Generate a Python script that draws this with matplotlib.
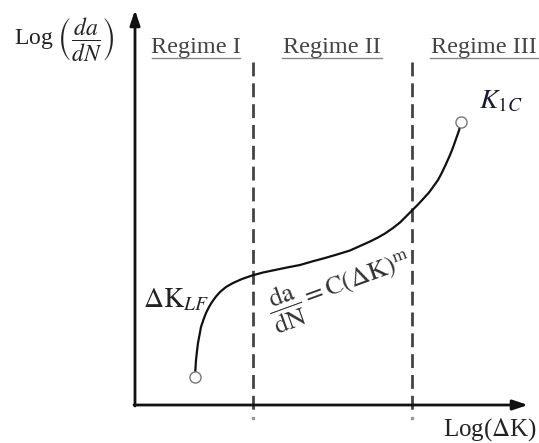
import matplotlib.pyplot as plt
import numpy as np

plt.rcParams['mathtext.fontset'] = 'stix'
plt.rcParams['font.family'] = ['Liberation Serif', 'DejaVu Serif']

# schematic da/dN curve, in drawing units (x right, y down)
curve_x = [195, 195.5, 196, 197, 198, 199.5, 201, 203.5, 206, 209, 212, 216,
           220, 226, 233, 242, 252, 263, 275, 287, 300, 312, 325, 337, 350,
           360, 370, 378, 385, 393, 400, 406, 412, 418, 424, 429, 433, 438,
           442, 446, 450, 453, 456, 459, 461]
curve_y = [377, 368, 360, 351, 343, 335, 327, 319.5, 313, 307, 302, 296.5,
           292, 287, 283, 279, 275.5, 272.5, 270, 267.5, 265, 261.5, 258,
           254.5, 250.5, 246, 241.5, 237.5, 233.5, 228, 222.5, 216.5, 210.5,
           204.5, 198, 192.5, 187, 180, 172.5, 164, 155, 147.5, 139, 130.5,
           122]

regime_bounds = [253, 412]
regime_labels = ["Regime I", "Regime II", "Regime III"]
regime_centers = [196, 332, 484]

origin = (135, 405)
x_end = 528
y_end = 10

fig = plt.figure(figsize=(5.39, 4.43), dpi=100)
ax = fig.add_axes([0, 0, 1, 1])
ax.set_xlim(0, 539)
ax.set_ylim(443, 0)
ax.axis('off')

# axes with arrow heads
arrow = dict(arrowstyle='-|>,head_length=0.9,head_width=0.3',
             lw=2, color='#111111', shrinkA=0, shrinkB=0)
ax.annotate('', xy=(x_end, origin[1]), xytext=(origin[0] - 1, origin[1]),
            arrowprops=arrow)
ax.annotate('', xy=(origin[0], y_end), xytext=(origin[0], origin[1] + 1),
            arrowprops=arrow)

# regime boundaries
for xb in regime_bounds:
    ax.plot([xb, xb], [62, 412], color='#444444', lw=2, dashes=(5, 2.5))
    ax.plot([xb], [418], 's', ms=1.5, color='#999999')

for lab, xc in zip(regime_labels, regime_centers):
    ax.text(xc, 47, lab, ha='center', va='center', fontsize=17.5,
            color='#444444')
    w = {"Regime I": 44, "Regime II": 50, "Regime III": 54}[lab]
    ax.plot([xc - w, xc + w], [58, 58], color='#888888', lw=1)

# curve and end markers
ax.plot(curve_x, curve_y, color='#111111', lw=1.6, solid_capstyle='round')
ax.plot([curve_x[0], curve_x[-1]], [curve_y[0], curve_y[-1]], 'o', ms=8,
        mfc='white', mec='#777777', mew=1)

# labels
ax.text(14, 39, r"Log $\left(\dfrac{da}{dN}\right)$", fontsize=17,
        ha='left', va='center', color='#222222')
ax.text(537, 430, r"Log($\Delta$K)", fontsize=18, ha='right', va='center',
        color='#222222')
ax.text(479, 102, r"$K_{1C}$", fontsize=20, ha='left', va='center',
        color='#1a1a2e')
ax.text(143, 300, r"$\Delta\mathrm{K}_{LF}$", fontsize=20, ha='left',
        va='center', color='#222222')
ax.text(340, 288, r"$\dfrac{\mathrm{da}}{\mathrm{dN}} = \mathrm{C}(\Delta\mathrm{K})^{\mathrm{m}}$",
        fontsize=19, ha='center', va='center', rotation=20,
        rotation_mode='anchor', color='#333333')

fig.savefig('out.png', dpi=100)
